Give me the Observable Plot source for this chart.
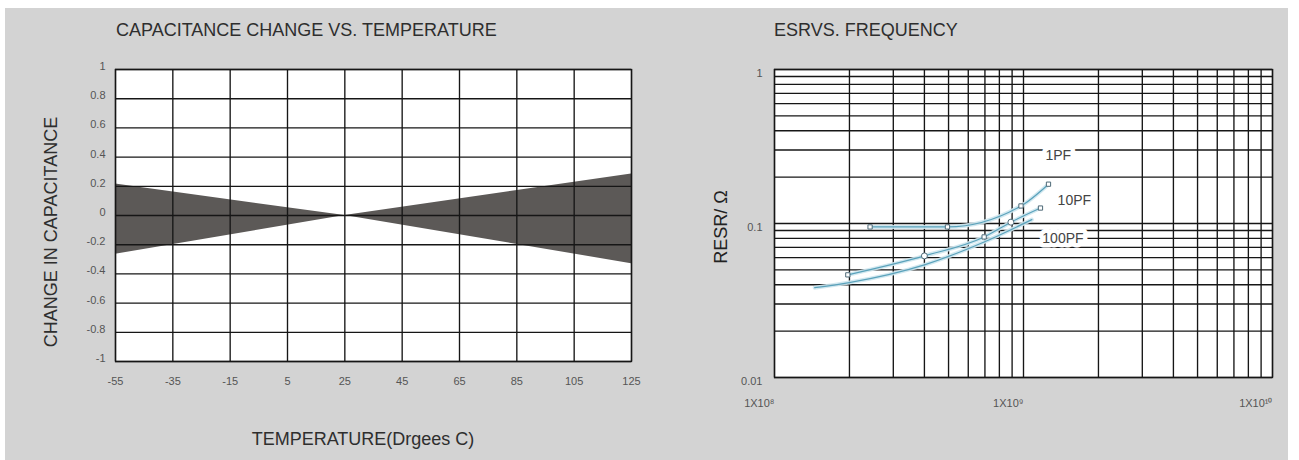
<!DOCTYPE html>
<html>
<head>
<meta charset="utf-8">
<script src="https://cdn.jsdelivr.net/npm/d3@7"></script>
<script src="https://cdn.jsdelivr.net/npm/@observablehq/plot@0.6"></script>
<style>
  html, body { margin: 0; padding: 0; background: #ffffff; width: 1299px; height: 460px; overflow: hidden; }
  body { position: relative; font-family: "Liberation Sans", Arial, sans-serif; }
  #panel { position: absolute; left: 5px; top: 8px; width: 1283px; height: 452px; background: #d3d3d3; }
  .abs { position: absolute; }
  .lbl { position: absolute; font-size: 18px; color: #2e2e2e; white-space: nowrap; line-height: 1; }
  .rot { transform: translate(-50%, -50%) rotate(-90deg); }
  .ctr { transform: translate(-50%, -50%); }
</style>
</head>
<body>
<div id="panel"></div>
<div id="left" class="abs" style="left:0;top:0"></div>
<div id="right" class="abs" style="left:650px;top:0"></div>
<div class="lbl" style="left:116px;top:21px">CAPACITANCE CHANGE VS. TEMPERATURE</div>
<div class="lbl" style="left:774px;top:21px">ESRVS. FREQUENCY</div>
<div class="lbl rot" style="left:51px;top:232px">CHANGE IN CAPACITANCE</div>
<div class="lbl ctr" style="left:363px;top:439px">TEMPERATURE(Drgees C)</div>
<div class="lbl rot" style="left:721px;top:227px;color:#222">RESR/ Ω</div>
<script>
// ---------- Left chart data ----------
const temps = [-55, 25, 125];
const capUpper = [0.215, 0, 0.285];
const capLower = [-0.265, 0, -0.33];
const tempTicks = [-55, -35, -15, 5, 25, 45, 65, 85, 105, 125];
const capTicks = [-1, -0.8, -0.6, -0.4, -0.2, 0, 0.2, 0.4, 0.6, 0.8, 1];

// ---------- Right chart data ----------
const freq1pF = [2.42e8, 4.95e8, 9.77e8, 1.26e9];
const esr1pF = [0.095, 0.095, 0.130, 0.180];
const freq10pF = [1.97e8, 4.0e8, 6.95e8, 8.9e8, 1.17e9];
const esr10pF = [0.0464, 0.0616, 0.0818, 0.102, 0.126];
const freq100pF = [1.45e8, 1.97e8, 4.0e8, 6.95e8, 1.08e9];
const esr100pF = [0.0383, 0.0412, 0.0539, 0.0759, 0.106];
const seriesNames = ["1PF", "10PF", "100PF"];
const labelFreq = [1.38e9, 1.6e9, 1.44e9];
const labelEsr = [0.277, 0.142, 0.0794];
const freqTickValues = [1e8, 1e9, 1e10];
const freqTickLabels = ["1X10⁸", "1X10⁹", "1X10¹⁰"];
const esrTickValues = [0.01, 0.1, 1];
const esrTickLabels = ["0.01", "0.1", "1"];

const gridColor = "#161616";
const gridWidth = 1.35;
const tickColor = "#555";

// ---------- Left chart ----------
const band = temps.map((t, i) => ({t, hi: capUpper[i], lo: capLower[i]}));
const left = Plot.plot({
  width: 650, height: 460,
  marginLeft: 115, marginRight: 19, marginTop: 69, marginBottom: 99,
  style: {background: "transparent", fontFamily: "Liberation Sans, Arial, sans-serif"},
  x: {domain: [-55, 125]},
  y: {domain: [-1, 1]},
  marks: [
    Plot.frame({fill: "white"}),
    Plot.areaY(band, {x: "t", y1: "lo", y2: "hi", fill: "#5c5957"}),
    Plot.gridX(tempTicks, {stroke: gridColor, strokeOpacity: 1, strokeWidth: gridWidth}),
    Plot.gridY(capTicks, {stroke: gridColor, strokeOpacity: 1, strokeWidth: gridWidth}),
    Plot.frame({stroke: gridColor, strokeWidth: gridWidth}),
    Plot.axisX(tempTicks, {tickSize: 0, tickPadding: 16, fontSize: 11, fill: tickColor, label: null, tickFormat: d => String(d)}),
    Plot.axisY(capTicks, {tickSize: 0, tickPadding: 10, fontSize: 11, fill: tickColor, label: null, dy: -3,
      tickFormat: d => String(+d.toFixed(1))})
  ]
});
document.getElementById("left").appendChild(left);

// ---------- Right chart ----------
const curves = [];
[[freq1pF, esr1pF], [freq10pF, esr10pF], [freq100pF, esr100pF]].forEach(([fs, es], s) => {
  fs.forEach((f, i) => curves.push({series: seriesNames[s], f, esr: es[i], i}));
});
const labels = seriesNames.map((name, i) => ({name, f: labelFreq[i], esr: labelEsr[i]}));
const xGrid = d3.range(8, 10).flatMap(e => d3.range(1, 10).map(m => m * 10 ** e)).concat([1e10]);
const yGrid = d3.range(-2, 0).flatMap(e => d3.range(1, 10).map(m => +(m * 10 ** e).toPrecision(3))).concat([1]);

const right = Plot.plot({
  width: 649, height: 460,
  marginLeft: 124, marginRight: 27, marginTop: 69, marginBottom: 83,
  style: {background: "transparent", fontFamily: "Liberation Sans, Arial, sans-serif"},
  x: {type: "log", domain: [1e8, 1e10]},
  y: {type: "log", domain: [0.01, 1]},
  marks: [
    Plot.frame({fill: "white"}),
    Plot.gridX(xGrid, {stroke: gridColor, strokeOpacity: 1, strokeWidth: gridWidth}),
    Plot.gridY(yGrid, {stroke: gridColor, strokeOpacity: 1, strokeWidth: gridWidth}),
    Plot.frame({stroke: gridColor, strokeWidth: gridWidth}),
    Plot.text(labels, {x: "f", y: "esr", text: "name", fontSize: 14, fill: "#444", stroke: "white", strokeWidth: 9, strokeLinejoin: "round"}),
    Plot.line(curves, {x: "f", y: "esr", z: "series", curve: "monotone-x", stroke: "#cde6ee", strokeWidth: 4, strokeOpacity: 0.9}),
    Plot.line(curves, {x: "f", y: "esr", z: "series", curve: "monotone-x", stroke: "#5aa2bb", strokeWidth: 1.2}),
    Plot.dot(curves.filter(d => d.series === "1PF" || (d.series === "10PF" && d.i % 2 === 0)),
      {x: "f", y: "esr", symbol: "square", r: 2.4, fill: "white", stroke: "#4f6a78", strokeWidth: 1}),
    Plot.dot(curves.filter(d => d.series === "10PF" && d.i % 2 === 1),
      {x: "f", y: "esr", symbol: "circle", r: 3, fill: "white", stroke: "#4f6a78", strokeWidth: 1}),
    Plot.axisX(freqTickValues, {tickSize: 0, tickPadding: 22, fontSize: 11, fill: tickColor, label: null, textAnchor: "end",
      tickFormat: d => freqTickLabels[freqTickValues.indexOf(d)]}),
    Plot.axisY(esrTickValues, {tickSize: 0, tickPadding: 12, fontSize: 11, fill: tickColor, label: null, dy: 4,
      tickFormat: d => esrTickLabels[esrTickValues.indexOf(d)]})
  ]
});
document.getElementById("right").appendChild(right);
</script>
</body>
</html>
